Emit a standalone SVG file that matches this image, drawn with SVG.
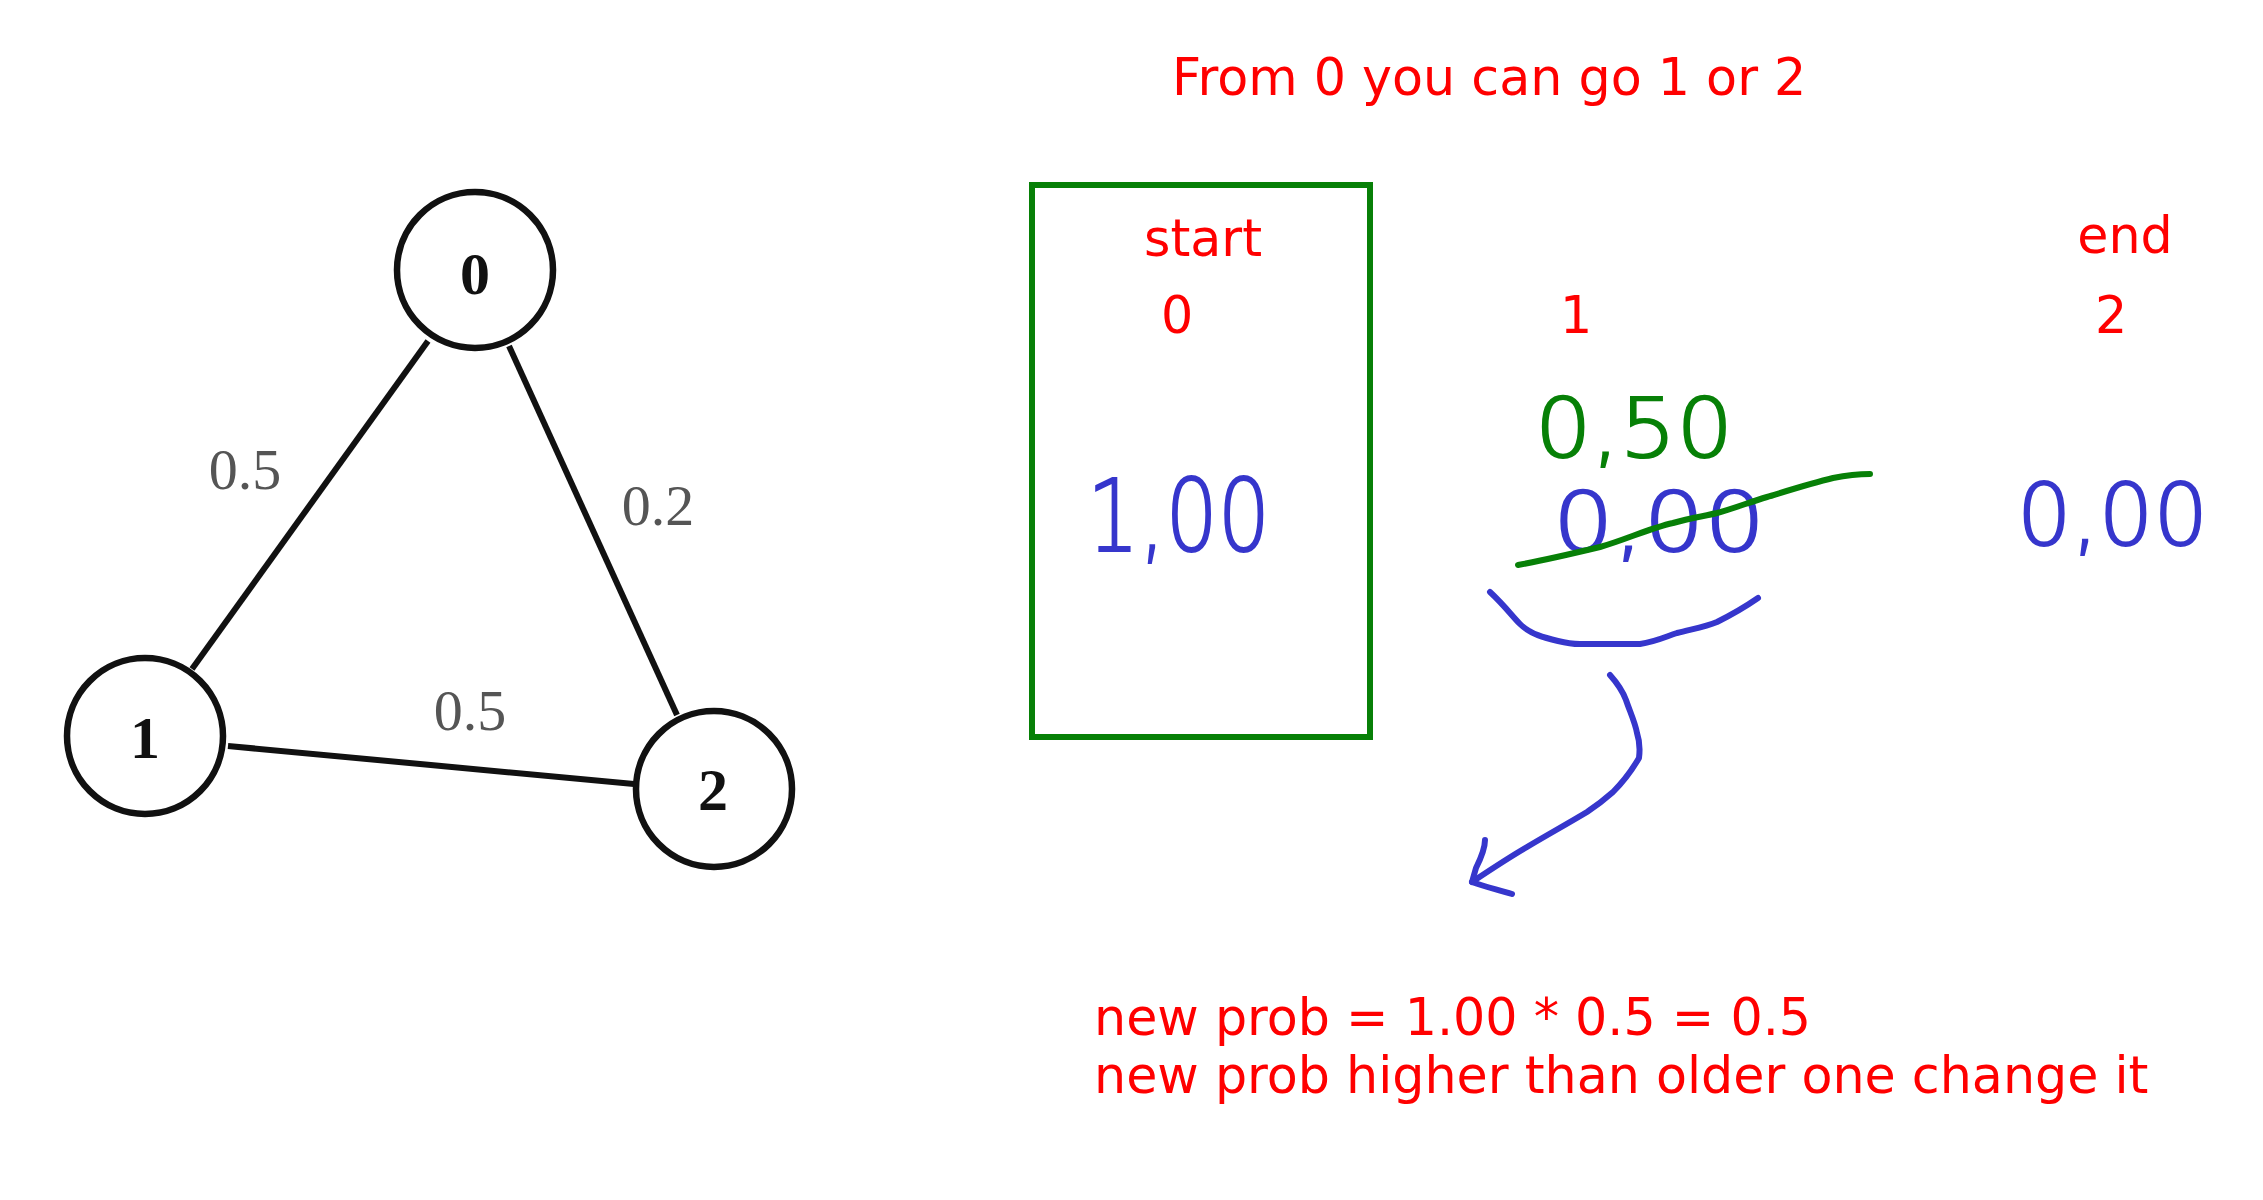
<svg xmlns="http://www.w3.org/2000/svg" width="2263" height="1200" viewBox="0 0 2263 1200">
<style>
.node circle{fill:#fff;stroke:#111;stroke-width:6.5}
.nlab{font-family:"Liberation Serif",serif;font-weight:bold;font-size:60px;fill:#111;text-anchor:middle}
.edge{stroke:#111;stroke-width:6;fill:none}
.elab{font-family:"Liberation Serif",serif;font-size:58px;fill:#555;text-anchor:middle}
.red{font-family:"DejaVu Sans","Liberation Sans",sans-serif;font-size:50.7px;fill:#ff0000}
.mid{text-anchor:middle}
.hand{font-family:"DejaVu Sans","Liberation Sans",sans-serif;font-weight:200;stroke-width:2}
.blue{fill:#3636cc;stroke:#3636cc}
.green{fill:#078007;stroke:#078007}
.pen{fill:none;stroke-linecap:round;stroke-linejoin:round;stroke-width:6}
</style>
<rect width="2263" height="1200" fill="#fff"/>
<g id="connectors">
<line class="edge" x1="428" y1="341" x2="192" y2="669"/>
<line class="edge" x1="509" y1="346" x2="677" y2="715"/>
<line class="edge" x1="228" y1="746" x2="634" y2="784"/>
<text class="elab" x="245" y="489">0.5</text>
<text class="elab" x="658" y="525">0.2</text>
<text class="elab" x="470" y="730">0.5</text>
</g>
<g id="node0" class="node"><circle cx="475" cy="270" r="78"/><text class="nlab" x="475" y="294">0</text></g>
<g id="node1" class="node"><circle cx="145" cy="736" r="78"/><text class="nlab" x="145" y="758">1</text></g>
<g id="node2" class="node"><circle cx="714" cy="789" r="78"/><text class="nlab" x="713" y="810">2</text></g>

<text class="red" x="1172" y="95">From 0 you can go 1 or 2</text>
<g id="startbox">
<rect x="1032" y="185" width="338" height="552" fill="none" stroke="#078007" stroke-width="6"/>
<text class="red mid" x="1203" y="256">start</text>
<text class="red mid" x="1177" y="333">0</text>
<text class="hand blue" x="1087" y="551" font-size="100" textLength="183" lengthAdjust="spacingAndGlyphs">1,00</text>
</g>
<g id="col1">
<text class="red mid" x="1576" y="333">1</text>
<text class="hand green" x="1535" y="457" font-size="82" textLength="198" lengthAdjust="spacingAndGlyphs">0,50</text>
<text class="hand blue" x="1553" y="551" font-size="82" textLength="212" lengthAdjust="spacingAndGlyphs">0,00</text>
<path class="pen" stroke="#078007" d="M1518,565 C1545,560 1575,553 1600,547 C1625,540 1650,528 1673,523 C1690,518 1705,516 1717,513 C1735,508 1750,502 1767,497 C1790,490 1812,483 1833,478 C1848,475 1860,474 1870,474"/>
</g>
<g id="col2">
<text class="red mid" x="2125" y="253">end</text>
<text class="red mid" x="2111" y="333">2</text>
<text class="hand blue" x="2017" y="545" font-size="85" textLength="191" lengthAdjust="spacingAndGlyphs">0,00</text>
</g>
<g id="annotation">
<path class="pen" stroke="#3636cc" d="M1490,592 C1505,606 1512,616 1520,624 C1530,634 1545,638 1558,641 C1566,643 1570,644 1580,644 L1640,644 C1655,642 1665,637 1677,633 C1692,629 1705,627 1717,622 C1733,614 1745,607 1758,598"/>
<path class="pen" stroke="#3636cc" d="M1610,675 C1618,684 1623,692 1626,700 C1630,712 1635,722 1637,733 C1640,742 1640,750 1639,758 C1632,770 1622,783 1613,792 C1604,800 1596,806 1587,812 C1567,824 1547,835 1527,847 C1508,858 1490,870 1472,882"/>
<path class="pen" stroke="#3636cc" d="M1485,840 C1485,850 1480,860 1476,868 L1472,882 C1485,887 1500,890 1512,894"/>
</g>
<text class="red" x="1094" y="1035">new prob = 1.00 * 0.5 = 0.5</text>
<text class="red" x="1094" y="1093">new prob higher than older one change it</text>
</svg>
